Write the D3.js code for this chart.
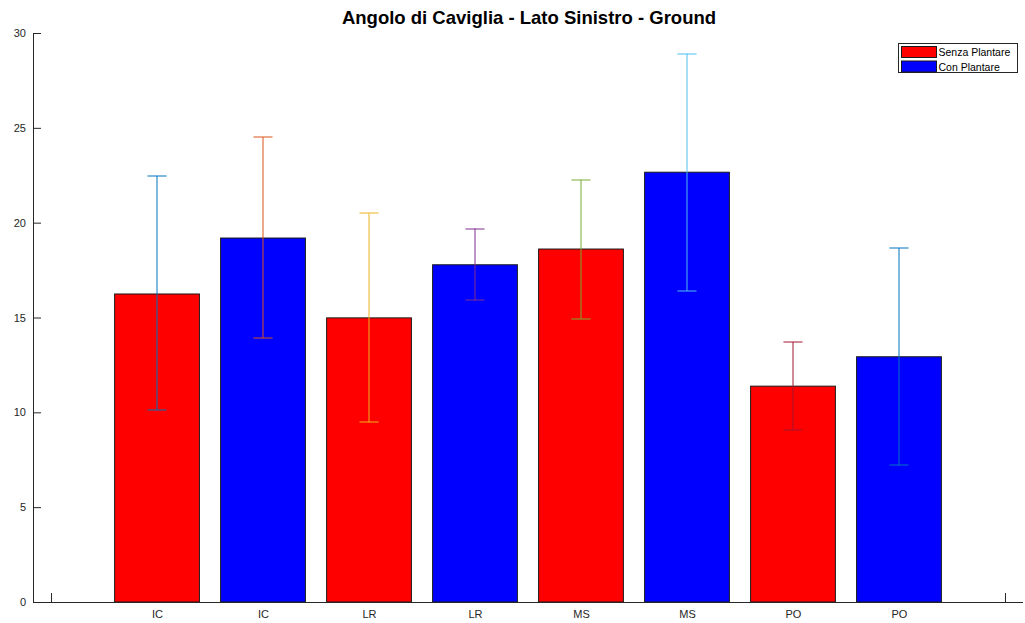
<!DOCTYPE html>
<html>
<head>
<meta charset="utf-8">
<script src="https://cdn.jsdelivr.net/npm/d3@7"></script>
<style>
  html, body { margin: 0; padding: 0; background: #fff; }
  svg { display: block; font-family: "Liberation Sans", Arial, Helvetica, sans-serif; }
</style>
</head>
<body>
<svg id="chart" width="1025" height="623"></svg>
<script>
// Ankle angle per gait phase, without / with insole
const categories = ["IC", "IC", "LR", "LR", "MS", "MS", "PO", "PO"];
const groups = ["Senza Plantare", "Con Plantare", "Senza Plantare", "Con Plantare",
                "Senza Plantare", "Con Plantare", "Senza Plantare", "Con Plantare"];
const means = [16.24, 19.19, 14.98, 17.78, 18.61, 22.66, 11.38, 12.93];
const lowerBounds = [10.12, 13.91, 9.47, 15.90, 14.92, 16.40, 9.05, 7.21];
const upperBounds = [22.47, 24.51, 20.49, 19.69, 22.26, 28.91, 13.71, 18.66];
const yTicks = [0, 5, 10, 15, 20, 25, 30];
const legendLabels = ["Senza Plantare", "Con Plantare"];

const groupColors = { "Senza Plantare": "#ff0000", "Con Plantare": "#0000ff" };
const errColors = ["#0072BD", "#D95319", "#EDB120", "#7E2F8E", "#77AC30", "#4DBEEE", "#A2142F", "#0072BD"];

const svg = d3.select("#chart");
const axisColor = "#262626";

const x = d3.scaleLinear().domain([-0.17, 9.17]).range([33, 1023]);
const y = d3.scaleLinear().domain([0, 30]).range([602, 33]);
const barW = 0.8;

// ticks first, so bars sit over the inward tick marks
const xAxis = svg.append("g").attr("transform", `translate(0,${y(0)})`)
  .call(d3.axisBottom(x).tickValues(d3.range(0, 10)).tickSizeInner(-9).tickSizeOuter(0)
    .tickFormat(d => (d >= 1 && d <= 8) ? categories[d - 1] : ""));
xAxis.select(".domain").remove();
xAxis.selectAll(".tick line").attr("stroke", axisColor);
xAxis.selectAll(".tick text").attr("fill", axisColor).attr("font-size", 11)
  .attr("font-family", "Liberation Sans, Arial, sans-serif").attr("y", 15.5).attr("dy", 0);

const yAxis = svg.append("g").attr("transform", `translate(${x.range()[0]},0)`)
  .call(d3.axisLeft(y).tickValues(yTicks).tickSizeInner(-8).tickSizeOuter(0).tickPadding(7));
yAxis.select(".domain").remove();
yAxis.selectAll(".tick line").attr("stroke", axisColor);
yAxis.selectAll(".tick text").attr("fill", axisColor).attr("font-size", 11)
  .attr("font-family", "Liberation Sans, Arial, sans-serif");

// bars
const idx = d3.range(means.length);
svg.append("g").selectAll("rect").data(idx).join("rect")
  .attr("x", i => x(i + 1 - barW / 2))
  .attr("y", i => y(means[i]))
  .attr("width", i => x(i + 1 + barW / 2) - x(i + 1 - barW / 2))
  .attr("height", i => y(0) - y(means[i]))
  .attr("fill", i => groupColors[groups[i]])
  .attr("stroke", "#1a1a1a")
  .attr("stroke-width", 1);

// error bars
const capHalf = 0.09;
const eb = svg.append("g").selectAll("g").data(idx).join("g")
  .attr("stroke", i => errColors[i]).attr("stroke-width", 1).attr("fill", "none");
eb.append("line")
  .attr("x1", i => Math.round(x(i + 1))).attr("x2", i => Math.round(x(i + 1)))
  .attr("y1", i => y(lowerBounds[i])).attr("y2", i => y(upperBounds[i]));
eb.append("line")
  .attr("x1", i => x(i + 1 - capHalf)).attr("x2", i => x(i + 1 + capHalf))
  .attr("y1", i => Math.round(y(upperBounds[i]))).attr("y2", i => Math.round(y(upperBounds[i])));
eb.append("line")
  .attr("x1", i => x(i + 1 - capHalf)).attr("x2", i => x(i + 1 + capHalf))
  .attr("y1", i => Math.round(y(lowerBounds[i]))).attr("y2", i => Math.round(y(lowerBounds[i])));

// axis lines
svg.append("line").attr("x1", 33.5).attr("x2", 33.5).attr("y1", y(30)).attr("y2", y(0) + 0.5)
  .attr("stroke", axisColor);
svg.append("line").attr("x1", 33).attr("x2", 1023).attr("y1", y(0) + 0.5).attr("y2", y(0) + 0.5)
  .attr("stroke", axisColor);

// title
svg.append("text").attr("x", 529).attr("y", 24).attr("text-anchor", "middle")
  .attr("font-size", 18.5).attr("font-weight", "bold").attr("fill", "#000")
  .text("Angolo di Caviglia - Lato Sinistro - Ground");

// legend
const lg = svg.append("g").attr("transform", "translate(898.5,43.5)");
lg.append("rect").attr("width", 119).attr("height", 29).attr("fill", "#fff").attr("stroke", axisColor);
legendLabels.forEach((lab, k) => {
  lg.append("rect").attr("x", 3).attr("y", 3 + k * 14.5).attr("width", 35).attr("height", 11)
    .attr("fill", groupColors[lab]).attr("stroke", "#1a1a1a");
  lg.append("text").attr("x", 40).attr("y", 12.5 + k * 14.5).attr("font-size", 10.5)
    .attr("fill", "#000").text(lab);
});
</script>
</body>
</html>
